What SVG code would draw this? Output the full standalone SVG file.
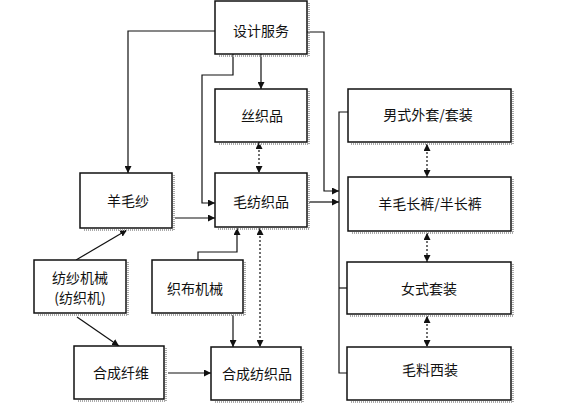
<svg xmlns="http://www.w3.org/2000/svg" width="568" height="414" viewBox="0 0 568 414">
<style>
.box{fill:#fff;stroke:#111;stroke-width:1.5}
.sh{fill:none;stroke:#aaa;stroke-width:2;stroke-dasharray:1 1}
.lbl{font-family:"Noto Sans CJK SC","Liberation Serif",serif;font-size:14px;fill:#111;text-anchor:middle;dominant-baseline:central}
.c{fill:none;stroke:#111;stroke-width:1.2}
.d{fill:none;stroke:#111;stroke-width:1.2;stroke-dasharray:2 2}
</style>
<defs>
<marker id="a" viewBox="0 0 10 10" refX="10" refY="5" markerWidth="7" markerHeight="7" markerUnits="userSpaceOnUse" orient="auto-start-reverse">
<path d="M0,0 L10,5 L0,10 Z" fill="#111"/>
</marker>
</defs>
<rect width="568" height="414" fill="#fff"/>
<g id="connectors">
<path class="c" d="M215,31 H128 V173" marker-end="url(#a)"/>
<path class="c" d="M233,54 V75 H202 V203 H215" marker-end="url(#a)"/>
<path class="c" d="M261,54 V89" marker-end="url(#a)"/>
<path class="c" d="M307,32 H324 V191 H339" marker-end="url(#a)"/>
<path class="d" d="M259,142 V173" marker-start="url(#a)" marker-end="url(#a)"/>
<path class="c" d="M175,218 H215" marker-end="url(#a)"/>
<path class="c" d="M309,202 H339" marker-end="url(#a)"/>
<path class="c" d="M348,112 H339 V373 H348"/>
<path class="c" d="M339,288 H347"/>
<path class="c" d="M76,260 L127,230" marker-end="url(#a)"/>
<path class="c" d="M198,260 V252 H237 V228" marker-end="url(#a)"/>
<path class="d" d="M260,228 V347" marker-start="url(#a)" marker-end="url(#a)"/>
<path class="c" d="M233,315 V347" marker-end="url(#a)"/>
<path class="c" d="M77,317 L119,346" marker-end="url(#a)"/>
<path class="c" d="M168,373 H211" marker-end="url(#a)"/>
<path class="d" d="M427,144 V177" marker-start="url(#a)" marker-end="url(#a)"/>
<path class="d" d="M427,233 V262" marker-start="url(#a)" marker-end="url(#a)"/>
<path class="d" d="M427,316 V347" marker-start="url(#a)" marker-end="url(#a)"/>
</g>
<g id="sheji"><path class="sh" d="M309,3 V56 H218"/><rect class="box" x="215" y="1" width="92" height="53"/><text class="lbl" x="261" y="30">设计服务</text></g>
<g id="sizhi"><path class="sh" d="M309,91 V144 H218"/><rect class="box" x="215" y="89" width="92" height="53"/><text class="lbl" x="262" y="115">丝织品</text></g>
<g id="maofang"><path class="sh" d="M309,175 V229 H218"/><rect class="box" x="215" y="173" width="92" height="54"/><text class="lbl" x="261" y="201">毛纺织品</text></g>
<g id="yangmaosha"><path class="sh" d="M174,175 V230 H83"/><rect class="box" x="80" y="173" width="92" height="55"/><text class="lbl" x="128" y="200">羊毛纱</text></g>
<g id="fangsha"><path class="sh" d="M128,262 V315 H37"/><rect class="box" x="34" y="260" width="92" height="53"/><text class="lbl" x="80" y="277">纺纱机械</text><text class="lbl" x="80" y="297">(纺织机)</text></g>
<g id="zhibu"><path class="sh" d="M245,262 V315 H155"/><rect class="box" x="152" y="260" width="91" height="53"/><text class="lbl" x="195" y="288">织布机械</text></g>
<g id="hecheng"><path class="sh" d="M166,348 V401 H77"/><rect class="box" x="74" y="346" width="90" height="53"/><text class="lbl" x="121" y="372">合成纤维</text></g>
<g id="hechengfang"><path class="sh" d="M303,349 V402 H214"/><rect class="box" x="211" y="347" width="90" height="53"/><text class="lbl" x="257" y="373">合成纺织品</text></g>
<g id="nanshi"><path class="sh" d="M513,91 V144 H351"/><rect class="box" x="348" y="89" width="163" height="53"/><text class="lbl" x="428" y="114">男式外套/套装</text></g>
<g id="kuzi"><path class="sh" d="M513,179 V233 H351"/><rect class="box" x="348" y="177" width="163" height="54"/><text class="lbl" x="430" y="203">羊毛长裤/半长裤</text></g>
<g id="nvshi"><path class="sh" d="M513,264 V316 H350"/><rect class="box" x="347" y="262" width="164" height="52"/><text class="lbl" x="429" y="288">女式套装</text></g>
<g id="xizhuang"><path class="sh" d="M513,349 V402 H350"/><rect class="box" x="347" y="347" width="164" height="53"/><text class="lbl" x="430" y="369">毛料西装</text></g>
</svg>
